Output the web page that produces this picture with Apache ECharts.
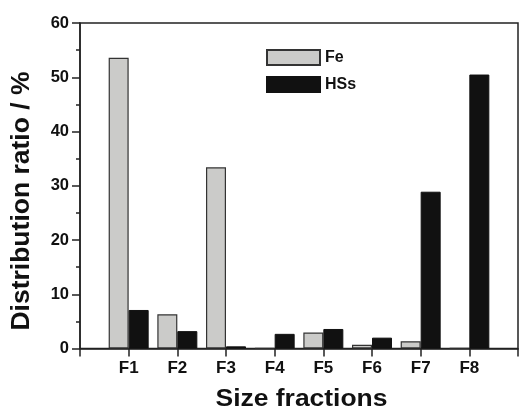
<!DOCTYPE html>
<html><head><meta charset="utf-8">
<script src="https://cdn.jsdelivr.net/npm/echarts@6/dist/echarts.min.js"></script>
<style>html,body{margin:0;padding:0;background:#fff}#c{width:521px;height:416px}</style>
</head><body><div id="c"></div>
<script>
const categories = ['', 'F1', 'F2', 'F3', 'F4', 'F5', 'F6', 'F7', 'F8', ''];
const feValues = [null, 53.6, 6.3, 33.4, 0.1, 2.95, 0.7, 1.35, 0.1, null];
const hssValues = [null, 7.1, 3.2, 0.4, 2.7, 3.6, 2.0, 28.9, 50.5, null];
const yTicks = [0, 10, 20, 30, 40, 50, 60];
const xTitle = 'Size fractions';
const yTitle = 'Distribution ratio / %';

const chart = echarts.init(document.getElementById('c'), null, {renderer: 'canvas'});
const font = 'Arial, "Liberation Sans", sans-serif';
chart.setOption({
  animation: false,
  backgroundColor: '#fff',
  grid: {left: 80, right: 1, top: 23, bottom: 67.5, show: true, borderColor: '#222', borderWidth: 1.5, backgroundColor: 'transparent'},
  legend: {
    show: true, left: 261, top: 44, orient: 'vertical', itemWidth: 53, itemHeight: 15, itemGap: 10,
    icon: 'rect',
    textStyle: {fontFamily: font, fontWeight: 'bold', fontSize: 16, lineHeight: 17, color: '#111'},
    data: ['Fe', 'HSs']
  },
  graphic: [
    {type: 'text', x: 301.5, y: 400, scaleX: 1.15,
      style: {text: xTitle, font: 'bold 23px Arial, "Liberation Sans", sans-serif', fill: '#111', align: 'center', verticalAlign: 'middle'}},
    {type: 'text', x: 22, y: 201, rotation: Math.PI / 2,
      style: {text: yTitle, font: 'bold 26.5px Arial, "Liberation Sans", sans-serif', fill: '#111', align: 'center', verticalAlign: 'middle'}}
  ],
  xAxis: {
    type: 'category', data: categories, boundaryGap: false,
    axisLine: {lineStyle: {color: '#222', width: 1.5}},
    axisTick: {show: true, inside: false, length: 8, lineStyle: {color: '#222', width: 1.5}, interval: 0},
    axisLabel: {fontFamily: font, fontWeight: 'bold', fontSize: 17, color: '#111', margin: 11, interval: 0},
    splitLine: {show: false}
  },
  yAxis: {
    type: 'value', min: 0, max: 60, interval: 10,
    axisLine: {show: true, lineStyle: {color: '#222', width: 1.5}},
    axisTick: {show: true, length: 8, lineStyle: {color: '#222', width: 1.5}},
    minorTick: {show: true, splitNumber: 2, length: 4, lineStyle: {color: '#222', width: 1.5}},
    axisLabel: {fontFamily: font, fontWeight: 'bold', fontSize: 16.5, color: '#111', margin: 11,
      formatter: v => yTicks.includes(v) ? String(v) : ''},
    splitLine: {show: false}
  },
  series: [
    {name: 'Fe', type: 'bar', data: feValues, barWidth: 20, barGap: '0%',
      itemStyle: {color: '#cbcbc9', borderColor: '#333', borderWidth: 1.2}},
    {name: 'HSs', type: 'bar', data: hssValues, barWidth: 20, barGap: '0%',
      itemStyle: {color: '#111', borderColor: '#111', borderWidth: 1}}
  ]
});
</script></body></html>
